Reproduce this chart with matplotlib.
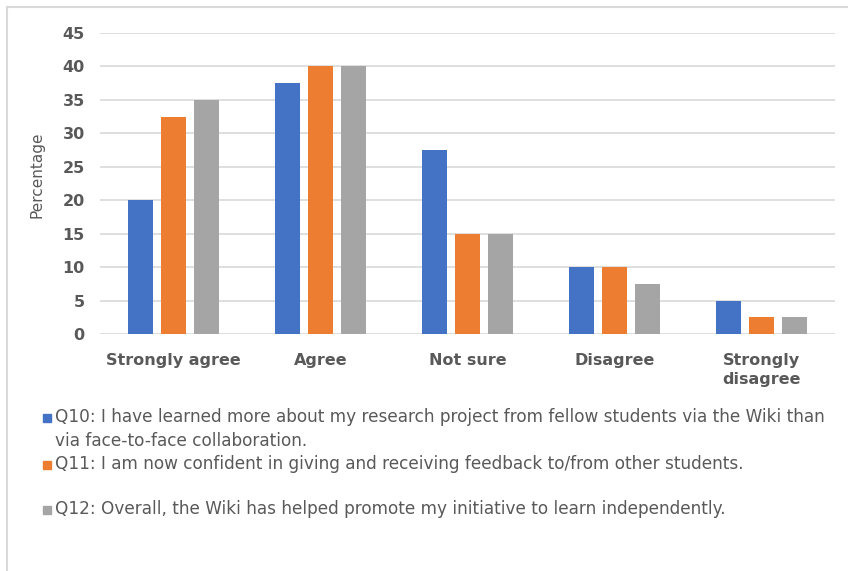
import numpy as np
import matplotlib
matplotlib.use("Agg")
import matplotlib.pyplot as plt
from matplotlib.lines import Line2D
from matplotlib.patches import Rectangle

plt.rcParams["font.family"] = ["DejaVu Sans"]

categories = ["Strongly agree", "Agree", "Not sure", "Disagree", "Strongly\ndisagree"]
q10 = [20, 37.5, 27.5, 10, 5]
q11 = [32.5, 40, 15, 10, 2.5]
q12 = [35, 40, 15, 7.5, 2.5]
series_labels = [
    "Q10: I have learned more about my research project from fellow students via the Wiki than\nvia face-to-face collaboration.",
    "Q11: I am now confident in giving and receiving feedback to/from other students.",
    "Q12: Overall, the Wiki has helped promote my initiative to learn independently.",
]
colors = ["#4472C4", "#ED7D31", "#A5A5A5"]

fig = plt.figure(figsize=(8.48, 5.71), dpi=100)
ax = fig.add_axes([100/848, 1 - 334/571, 735/848, 301/571])

x = np.arange(len(categories))
w = 0.17
step = 0.224
for i, (vals, c) in enumerate(zip([q10, q11, q12], colors)):
    ax.bar(x + (i - 1) * step, vals, width=w, color=c, zorder=3)

ax.set_xlim(-0.5, 4.5)
ax.set_ylim(0, 45)
ax.set_yticks(range(0, 46, 5))
ax.grid(axis="y", color="#d9d9d9", linewidth=1.2, zorder=0)
for s in ax.spines.values():
    s.set_visible(False)
ax.set_xticks(x)
ax.set_xticklabels(categories, fontsize=11.5, fontweight="bold", color="#595959",
                   linespacing=1.3, va="top")
ax.tick_params(axis="both", length=0)
ax.tick_params(axis="x", pad=14)
ax.tick_params(axis="y", pad=11, labelsize=11.5, labelcolor="#595959")
for t in ax.get_yticklabels():
    t.set_fontweight("bold")
ax.set_ylabel("Percentage", fontsize=11, color="#595959", labelpad=8)
ax.yaxis.set_label_coords(-0.075, 0.53)

# legend entries drawn by hand to keep the uneven spacing
ys = [418, 465, 510]
for lab, c, yy in zip(series_labels, colors, ys):
    fig.patches.append(Rectangle((43/848, 1 - (yy + 4)/571), 8/848, 8/571,
                                 transform=fig.transFigure, color=c))
    fig.text(55/848, 1 - (yy - 10)/571, lab, fontsize=12.2, color="#595959",
             va="top", ha="left", linespacing=1.45)

# outer frame (left and top only)
fig.add_artist(Line2D([7/848, 7/848], [0, 1 - 7/571], transform=fig.transFigure,
                      color="#d9d9d9", linewidth=1.5))
fig.add_artist(Line2D([7/848, 1], [1 - 7/571, 1 - 7/571], transform=fig.transFigure,
                      color="#d9d9d9", linewidth=1.5))

fig.savefig("out.png", dpi=100)
